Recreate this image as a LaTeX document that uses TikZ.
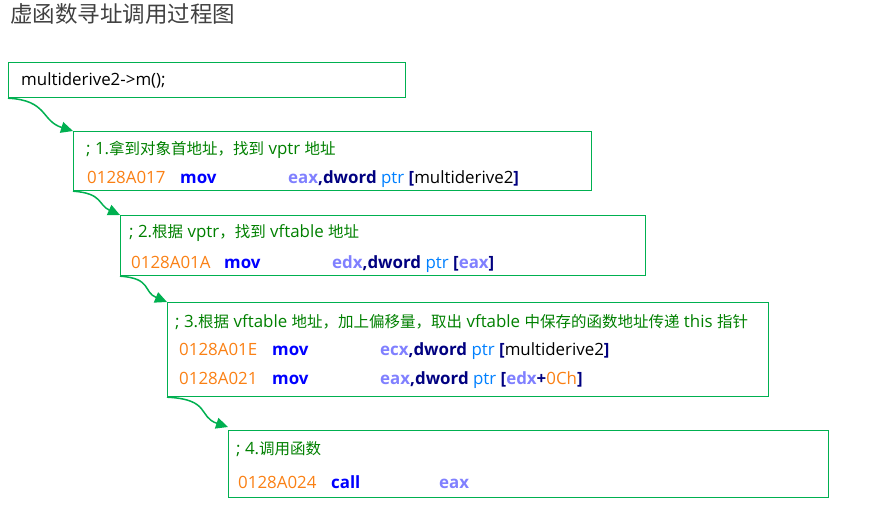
\documentclass[tikz,border=0pt]{standalone}
\usepackage{fontspec}
\setmainfont{Open Sans}[Scale=1.09]
\newfontfamily\cjk{Noto Sans CJK SC}
\usetikzlibrary{arrows.meta,positioning}
\definecolor{flowgreen}{RGB}{0,176,80}
\definecolor{cmtgreen}{RGB}{0,128,0}
\definecolor{addrorange}{RGB}{250,128,20}
\definecolor{opblue}{RGB}{0,0,255}
\definecolor{regblue}{RGB}{128,128,255}
\definecolor{kwnavy}{RGB}{0,0,128}
\definecolor{ptrblue}{RGB}{0,128,255}

\newcommand{\addr}[1]{\makebox[93pt][l]{\color{addrorange}#1}}
\newcommand{\opc}[1]{\makebox[108pt][l]{\color{opblue}\bfseries #1}}
\newcommand{\reg}[1]{{\color{regblue}\bfseries #1}}
\newcommand{\kw}[1]{{\color{kwnavy}\bfseries #1}}
\newcommand{\ptrw}{{\color{ptrblue}ptr}}
\newcommand{\zh}[1]{{\cjk #1}}

\begin{document}
\begin{tikzpicture}[
    x=1pt, y=-1pt,
    >={Triangle[length=12pt,width=11pt]},
    font=\fontsize{15.5}{18}\selectfont,
    codebox/.style={
        draw=flowgreen,
        line width=1.2pt,
        rectangle,
        anchor=north west,
        inner sep=0pt
    },
    cmt/.style={anchor=west, inner sep=0pt, text=cmtgreen},
    code/.style={anchor=west, inner sep=0pt},
    flow/.style={draw=flowgreen, line width=1.5pt, ->}
]
\useasboundingbox (0,0) rectangle (870,508);

% =====================
% TITOLO
% =====================
\node[anchor=west, inner sep=0pt, text=black!75, font=\cjk\fontsize{22.5}{26}\selectfont] (ttl) at (10,14) {虚函数寻址调用过程图};

% =====================
% BLOCCHI
% =====================
\node[codebox, minimum width=397pt, minimum height=35pt] (s0) at (8,62) {};
\node[code] (s0a) at (21,80) {multiderive2->m();};

\node[codebox, minimum width=518pt, minimum height=59pt] (s1) at (73,131) {};
\node[cmt] (s1c) at (86,150) {; 1.\zh{拿到对象首地址，找到} vptr \zh{地址}};
\node[code] (s1a) at (87,179) {\addr{0128A017}\opc{mov}\reg{eax}\kw{,dword} \ptrw{} \kw{[}multiderive2\kw{]}};

\node[codebox, minimum width=525pt, minimum height=60pt] (s2) at (120,215) {};
\node[cmt] (s2c) at (129,233) {; 2.\zh{根据} vptr\zh{，找到} vftable \zh{地址}};
\node[code] (s2a) at (131,264) {\addr{0128A01A}\opc{mov}\reg{edx}\kw{,dword} \ptrw{} \kw{[}\reg{eax}\kw{]}};

\node[codebox, minimum width=601pt, minimum height=94pt] (s3) at (167,302) {};
\node[cmt] (s3c) at (175,322) {; 3.\zh{根据} vftable \zh{地址，加上偏移量，取出} vftable \zh{中保存的函数地址传递} this \zh{指针}};
\node[code] (s3a) at (179,351) {\addr{0128A01E}\opc{mov}\reg{ecx}\kw{,dword} \ptrw{} \kw{[}multiderive2\kw{]}};
\node[code] (s3b) at (179,380) {\addr{0128A021}\opc{mov}\reg{eax}\kw{,dword} \ptrw{} \kw{[}\reg{edx}\kw{+}{\color{addrorange}0Ch}\kw{]}};

\node[codebox, minimum width=600pt, minimum height=67pt] (s4) at (228,430) {};
\node[cmt] (s4c) at (236,449) {; 4.\zh{调用函数}};
\node[code] (s4a) at (238,482) {\addr{0128A024}\opc{call}\reg{eax}};

% =====================
% FRECCE
% =====================
\draw[flow] (s0.south west) .. controls +(40,2) and +(-32,-10) .. (s1.north west);
\draw[flow] (s1.south west) .. controls +(30,2) and +(-22,-10) .. (s2.north west);
\draw[flow] (s2.south west) .. controls +(32,2) and +(-24,-10) .. (s3.north west);
\draw[flow] (s3.south west) .. controls +(44,2) and +(-30,-10) .. ([yshift=3pt]s4.north west);

\end{tikzpicture}
\end{document}
